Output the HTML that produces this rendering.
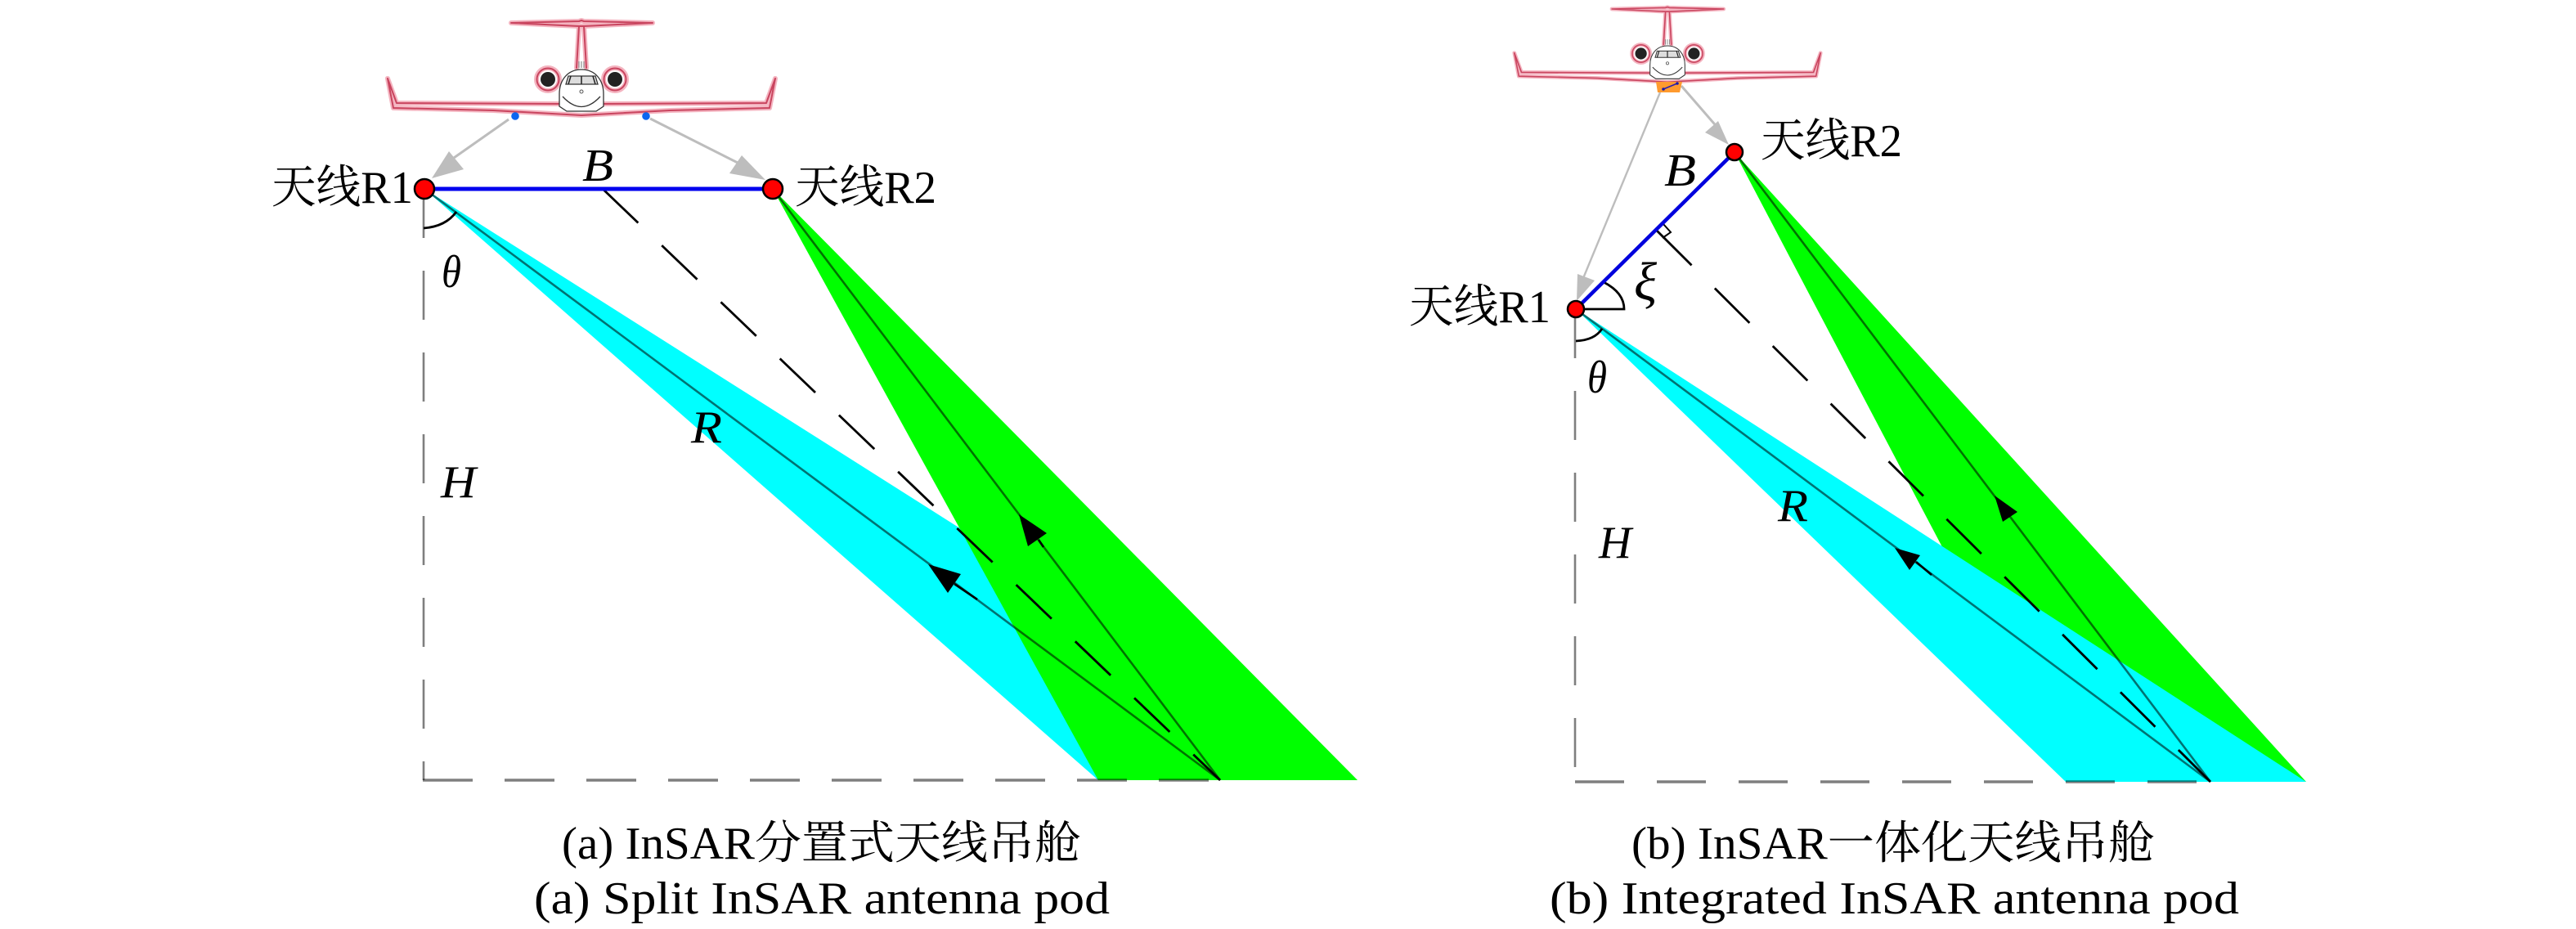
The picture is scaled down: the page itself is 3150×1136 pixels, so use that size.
<!DOCTYPE html>
<html>
<head>
<meta charset="utf-8">
<style>
html,body{margin:0;padding:0;background:#fff;}
svg{display:block;}
text{font-family:"Liberation Serif","Noto Serif CJK SC",serif;fill:#000;font-size:56px;}
.i{font-style:italic;}
</style>
</head>
<body>
<svg width="3150" height="1136" viewBox="0 0 3150 1136" xmlns="http://www.w3.org/2000/svg">
<defs>
<g id="plane">
  <g fill="none" stroke="#f4b4c0" stroke-width="6" stroke-linejoin="round" stroke-linecap="round">
    <path d="M625,28 L708,26 L711,25 L714,26 L798,28 L714,32 L708,32 Z"/>
    <path d="M708,32 L705,83 M714,32 L717,83"/>
    <path d="M683,127 L485,126 L474,96 L481,132 L603,135 L711,141 L819,135 L941,132 L948,96 L937,126 L739,127"/>
    <circle cx="670" cy="97" r="14"/>
    <circle cx="752" cy="97" r="14"/>
  </g>
  <g fill="none" stroke="#c9455f" stroke-width="2" stroke-linejoin="round" stroke-linecap="round">
    <path d="M625,28 L708,26 L711,25 L714,26 L798,28 L714,32 L708,32 Z"/>
    <path d="M708,32 L705,83 M714,32 L717,83"/>
    <path d="M683,127 L485,126 L474,96 L481,132 L603,135 L711,141 L819,135 L941,132 L948,96 L937,126 L739,127"/>
    <circle cx="670" cy="97" r="13.5"/>
    <circle cx="752" cy="97" r="13.5"/>
  </g>
  <circle cx="670" cy="97" r="9" fill="#222"/>
  <circle cx="752" cy="97" r="9" fill="#222"/>
  <path d="M711,85 C694,85 684,98 684,115 L684,130 L693,136 L729,136 L738,130 L738,115 C738,98 728,85 711,85 Z" fill="#fff" stroke="#333" stroke-width="1.3"/>
  <path d="M688,118 Q711,143 734,118" fill="none" stroke="#333" stroke-width="1.3"/>
  <path d="M695,93 L728,93 L731,103 L692,103 Z" fill="#ddd" stroke="#333" stroke-width="1.3"/>
  <path d="M711,93 V103 M698,93 L695,103 M725,93 L728,103" stroke="#222" stroke-width="1.5"/>
  <circle cx="711" cy="112" r="2" fill="#fff" stroke="#555" stroke-width="1"/>
  <path d="M708,75 V83 M711,75 V83 M714,75 V83" stroke="#777" stroke-width="1"/>
</g>
</defs>

<!-- Panel A -->
<polygon points="519,231 1343,954 1660,954" fill="#00ffff"/>
<polygon points="945,231 1343,954 1660,954" fill="#00ff00"/>

<g stroke="#000" stroke-opacity="0.55" stroke-width="2.6" fill="none">
  <line x1="519" y1="231" x2="1492" y2="954"/>
  <line x1="945" y1="231" x2="1492" y2="954"/>
</g>
<line x1="737" y1="231" x2="1492" y2="954" stroke="#000" stroke-width="2.8" stroke-dasharray="60 40"/>
<line x1="518" y1="231" x2="518" y2="954" stroke="#000" stroke-opacity="0.5" stroke-width="2.6" stroke-dasharray="60 40"/>
<line x1="517" y1="954" x2="1492" y2="954" stroke="#000" stroke-opacity="0.5" stroke-width="3.4" stroke-dasharray="61 39"/>

<polygon points="1135,690 1175,702 1159,725" fill="#000"/>
<polygon points="1246,629 1280,652 1257,668" fill="#000"/>
<line x1="1167" y1="714" x2="1195" y2="733" stroke="#000" stroke-width="2.6"/>
<line x1="1270" y1="660" x2="1276" y2="669" stroke="#000" stroke-width="2.6"/>

<path d="M518,279 Q545,277 558,259" fill="none" stroke="#000" stroke-width="2.8"/>

<line x1="622" y1="146" x2="555" y2="193" stroke="#bdbdbd" stroke-width="3"/>
<polygon points="528,218 549,185 567,207" fill="#bdbdbd"/>
<line x1="795" y1="145" x2="910" y2="203" stroke="#bdbdbd" stroke-width="3"/>
<polygon points="936,220 907,190 892,212" fill="#bdbdbd"/>

<line x1="519" y1="231" x2="945" y2="231" stroke="#0000ee" stroke-width="5"/>
<circle cx="519" cy="231" r="12" fill="#ff0000" stroke="#000" stroke-width="2.5"/>
<circle cx="945" cy="231" r="12" fill="#ff0000" stroke="#000" stroke-width="2.5"/>

<use href="#plane"/>
<circle cx="630" cy="142" r="4.8" fill="#0b66f0"/>
<circle cx="790" cy="142" r="4.8" fill="#0b66f0"/>

<text x="332" y="248" textLength="173" lengthAdjust="spacingAndGlyphs">天线R1</text>
<text x="972" y="248" textLength="173" lengthAdjust="spacingAndGlyphs">天线R2</text>
<text class="i" x="712" y="221" textLength="38" lengthAdjust="spacingAndGlyphs">B</text>
<text class="i" x="540" y="351" textLength="24" lengthAdjust="spacingAndGlyphs">θ</text>
<text class="i" x="539" y="608" textLength="43" lengthAdjust="spacingAndGlyphs">H</text>
<text class="i" x="845" y="541" textLength="38" lengthAdjust="spacingAndGlyphs">R</text>

<text x="687" y="1050" textLength="635" lengthAdjust="spacingAndGlyphs">(a) InSAR分置式天线吊舱</text>
<text x="653" y="1117" textLength="704" lengthAdjust="spacingAndGlyphs">(a) Split InSAR antenna pod</text>

<!-- Panel B -->
<polygon points="2121,186 2526,956 2820,956" fill="#00ff00"/>
<polygon points="1927,378 2526,956 2820,956" fill="#00ffff"/>

<g stroke="#000" stroke-opacity="0.55" stroke-width="2.6" fill="none">
  <line x1="1927" y1="378" x2="2703" y2="956"/>
  <line x1="2121" y1="186" x2="2703" y2="956"/>
</g>
<line x1="2026" y1="282" x2="2703" y2="956" stroke="#000" stroke-width="2.8" stroke-dasharray="60 40"/>
<line x1="1926" y1="378" x2="1926" y2="956" stroke="#000" stroke-opacity="0.5" stroke-width="2.6" stroke-dasharray="60 40"/>
<line x1="1926" y1="956" x2="2703" y2="956" stroke="#000" stroke-opacity="0.5" stroke-width="3.4" stroke-dasharray="60 40"/>

<polygon points="2317,670 2348,679 2335,697" fill="#000"/>
<polygon points="2439,606 2467,626 2449,638" fill="#000"/>
<line x1="2343" y1="687" x2="2362" y2="703" stroke="#000" stroke-width="2.6"/>

<path d="M1927,417 Q1950,416 1959,402" fill="none" stroke="#000" stroke-width="2.8"/>
<path d="M1927,378 H1986 Q1986,358 1961,345" fill="none" stroke="#000" stroke-width="2.8"/>
<path d="M2034,274 L2043,284 L2033,291" fill="none" stroke="#000" stroke-width="2"/>

<line x1="2030" y1="113" x2="1934" y2="345" stroke="#bdbdbd" stroke-width="2.4"/>
<polygon points="1928,368 1929,335 1950,343" fill="#bdbdbd"/>
<line x1="2056" y1="105" x2="2102" y2="158" stroke="#bdbdbd" stroke-width="3"/>
<polygon points="2114,177 2085,162 2101,148" fill="#bdbdbd"/>

<line x1="1927" y1="378" x2="2121" y2="186" stroke="#0000dd" stroke-width="4.5"/>
<circle cx="1927" cy="378" r="10" fill="#ff0000" stroke="#000" stroke-width="2.5"/>
<circle cx="2121" cy="186" r="10" fill="#ff0000" stroke="#000" stroke-width="2.5"/>

<use href="#plane" transform="translate(2039 11) scale(0.79) translate(-711 -28)"/>
<polygon points="2025,100 2057,100 2054,113 2027,113" fill="#ff9a2e"/>
<line x1="2034" y1="109" x2="2051" y2="102" stroke="#2a1fb0" stroke-width="1.6"/>
<circle cx="2034" cy="109" r="1.8" fill="#1a1aa8"/>
<circle cx="2051" cy="102" r="1.8" fill="#1a1aa8"/>

<text x="1723" y="394" textLength="173" lengthAdjust="spacingAndGlyphs">天线R1</text>
<text x="2153" y="191" textLength="173" lengthAdjust="spacingAndGlyphs">天线R2</text>
<text class="i" x="2035" y="227" textLength="39" lengthAdjust="spacingAndGlyphs">B</text>
<text class="i" x="1998" y="366" font-size="66" style="font-size:66px" textLength="28" lengthAdjust="spacingAndGlyphs">ξ</text>
<text class="i" x="1941" y="480" textLength="24" lengthAdjust="spacingAndGlyphs">θ</text>
<text class="i" x="1955" y="682" textLength="40" lengthAdjust="spacingAndGlyphs">H</text>
<text class="i" x="2174" y="637" textLength="37" lengthAdjust="spacingAndGlyphs">R</text>

<text x="1995" y="1050" textLength="640" lengthAdjust="spacingAndGlyphs">(b) InSAR一体化天线吊舱</text>
<text x="1895" y="1117" textLength="843" lengthAdjust="spacingAndGlyphs">(b) Integrated InSAR antenna pod</text>
</svg>
</body>
</html>
